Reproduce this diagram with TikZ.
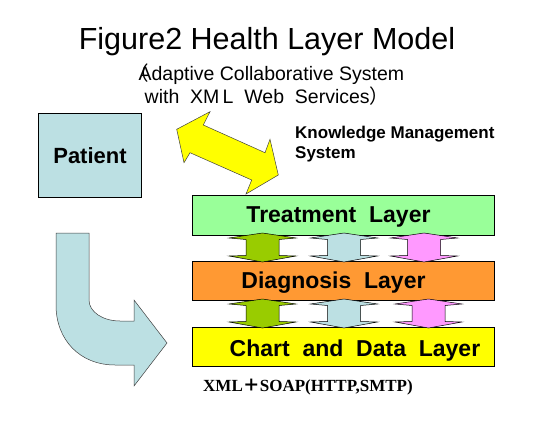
\documentclass[tikz,border=0pt]{standalone}
\usepackage{fontspec}
\setmainfont{Liberation Sans}
\newfontfamily\soapfont{Liberation Serif}
\newfontfamily\cjk{Noto Sans CJK SC}
\usetikzlibrary{positioning}

\definecolor{patientblue}{HTML}{BCE0E3}
\definecolor{treatgreen}{HTML}{99FF99}
\definecolor{diagorange}{HTML}{FF9933}
\definecolor{chartyellow}{HTML}{FFFF00}
\definecolor{linkgreen}{HTML}{99CC00}
\definecolor{linkpink}{HTML}{FF99FF}

\begin{document}
\begin{tikzpicture}[
    x=1pt, y=-1pt,
    layer/.style={rectangle, draw=black, line width=0.8pt, minimum width=302pt, inner sep=0pt, anchor=north west},
    layertext/.style={font=\bfseries\fontsize{23}{26}\selectfont, anchor=base, inner sep=0pt},
    blockarrow/.style={draw=black!75, line width=0.5pt, line join=miter}
]
\useasboundingbox (0,0) rectangle (535,444);

% Title
\node[anchor=base, font=\fontsize{30.5}{34}\selectfont, inner sep=0pt] (title) at (267,50) {Figure2 Health Layer Model};
\node[anchor=base, font=\fontsize{19.5}{22}\selectfont, inner sep=0pt] (subtitle1) at (267,80) {{\cjk （}\kern-0.55em Adaptive Collaborative System};
\node[anchor=base, font=\fontsize{19.5}{22}\selectfont, inner sep=0pt] (subtitle2) at (267,103) {with\ \ XM\,L\ \ Web\ \ Services{\cjk ）}};

% Patient
\node[rectangle, draw=black, line width=0.8pt, fill=patientblue, minimum width=103pt, minimum height=84pt, anchor=north west] (patient) at (38,113) {};
\node[font=\bfseries\fontsize{22}{24}\selectfont, anchor=base, inner sep=0pt] (patienttext) at (90,163) {Patient};

% Knowledge management arrow
\draw[blockarrow, fill=chartyellow] (176.7,129.3) -- (210,111.7) -- (203.3,125) -- (265,152.7) -- (270,139.3)
    -- (278.3,175) -- (246,194) -- (251.7,180) -- (190,152.7) -- (184,162.7) -- cycle;
\node[font=\bfseries\fontsize{17}{20}\selectfont, anchor=base west, align=left, inner sep=0pt] (kms) at (295,158)
    {Knowledge Management\\System};

% Curved arrow from patient
\draw[blockarrow, fill=patientblue] (56,233) -- (89,233) -- (89,300) .. controls (89,312) and (103,321) .. (120,321)
    -- (134,321) -- (134,300) -- (167,343) -- (134,386) -- (134,365) -- (115,365)
    .. controls (80,365) and (56,340) .. (56,305) -- cycle;

% Layers
\node[layer, fill=treatgreen, minimum height=40pt] (treatment) at (192,195) {};
\node[layer, fill=diagorange, minimum height=39pt] (diagnosis) at (192,261) {};
\node[layer, fill=chartyellow, minimum height=39pt] (chart) at (192,327) {};

% Links between layers
\foreach \cx/\ytop/\ybot/\col in {262.5/233/262/linkgreen, 344/233/262/patientblue, 424/233/262/linkpink,
                                  262.5/299/328/linkgreen, 344/299/328/patientblue, 428.5/299/328/linkpink}{
    \draw[blockarrow, draw=black, fill=\col] (\cx,\ytop) -- (\cx+33.5,\ytop+5) -- (\cx+16.5,\ytop+6.5) -- (\cx+16.5,\ybot-6.5)
        -- (\cx+33.5,\ybot-6) -- (\cx,\ybot) -- (\cx-33.5,\ybot-6) -- (\cx-16.5,\ybot-6.5) -- (\cx-16.5,\ytop+6.5)
        -- (\cx-33.5,\ytop+5) -- cycle;
}

\node[layertext] (treattext) at (338.5,222) {Treatment\ \ Layer};
\node[layertext] (diagtext) at (333.5,288) {Diagnosis\ \ Layer};
\node[layertext] (charttext) at (355,356.5) {Chart\ \ and\ \ Data\ \ Layer};

% Protocol
\node[font=\soapfont\bfseries\fontsize{17}{20}\selectfont, anchor=base west, inner sep=0pt] (protocol) at (203,391)
    {XML{\cjk ＋}SOAP(HTTP,SMTP)};

\end{tikzpicture}
\end{document}
